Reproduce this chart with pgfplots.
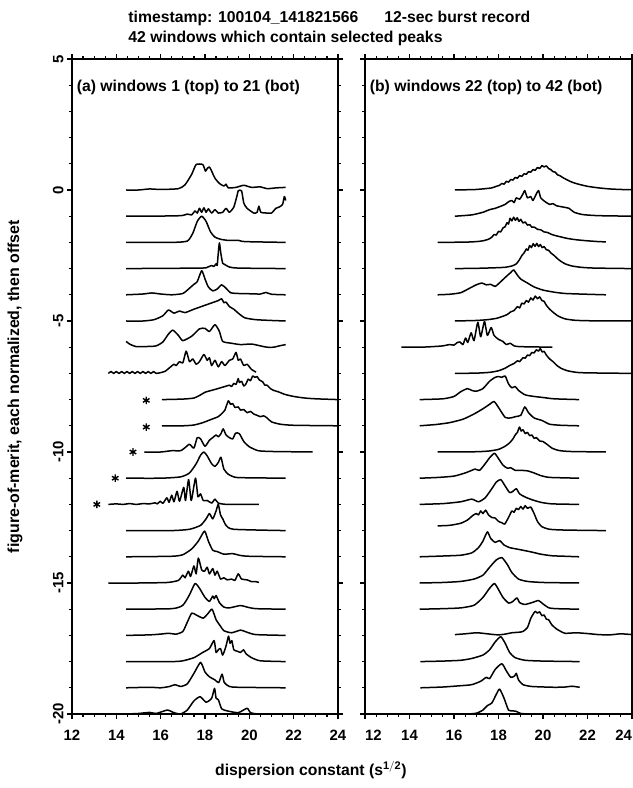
\documentclass[border=0pt]{standalone}
\usepackage{fontspec}
\setmainfont{Liberation Sans}
\usepackage{pgfplots}
\pgfplotsset{compat=1.18}

\pgfplotsset{
  panel/.style={
    scale only axis, height=655bp,
    xmin=12, xmax=24, ymin=-20, ymax=5,
    xtick={12,14,...,24}, minor x tick num=3,
    ytick={-20,-15,-10,-5,0,5}, minor y tick num=4,
    tick align=outside, major tick length=5bp, minor tick length=3bp,
    axis line style={line width=1.5bp},
    every tick/.style={black, line width=1.2bp},
    tick label style={font=\bfseries\fontsize{15}{15}\selectfont},
    xticklabel style={yshift=-8bp},
    /pgf/number format/assume math mode=true,
    clip=true,
  },
  tr/.style={black, line width=1.5bp, no markers, line join=round, smooth, tension=0.35},
}
\newcommand\tr[2]{\addplot[tr, y filter/.expression={y-#1}] coordinates {#2};}

\begin{document}
\begin{tikzpicture}
% ---------- (a) windows 1 to 21 ----------
\begin{axis}[panel, name=L, at={(0,0)}, anchor=south west, width=266bp,
  yticklabels={-20,-15,-10,-5,0,5},
  yticklabel style={rotate=90, anchor=south},
  ylabel={\bfseries figure-of-merit, each normalized, then offset},
  ylabel style={font=\fontsize{16}{16}\selectfont, at={(axis description cs:-0.214,0.5)}, anchor=center, rotate=0},
  xlabel={\bfseries dispersion constant (s$^{\mathbf{1/2}}$)},
  xlabel style={font=\fontsize{15.8}{15.8}\selectfont, at={(axis description cs:0.898,-0.0855)}, anchor=center},
  title={\bfseries timestamp: 100104\_141821566\hspace{26bp}12-sec burst record\\\bfseries 42 windows which contain selected peaks},
  title style={font=\fontsize{15.8}{20}\selectfont, align=left, at={(axis description cs:0.199,1)}, anchor=south west, yshift=4bp},
]
\node[anchor=west, font=\bfseries\fontsize{15.8}{15.8}\selectfont] at (rel axis cs:0.005,0.956) {(a) windows 1 (top) to 21 (bot)};
\tr{0}{(14.44,0)(15.0,0.0)(15.5,0.04)(16.0,0.02)(16.8,0.05)(17.1,0.2)(17.4,0.6)(17.6,0.97)(17.9,0.97)(18.02,0.72)(18.1,0.82)(18.2,0.88)(18.3,0.72)(18.45,0.45)(18.65,0.25)(18.85,0.15)(18.95,0.22)(19.05,0.08)(19.4,0.1)(19.75,0.18)(20.1,0.1)(20.5,0.12)(20.8,0.05)(21.2,0.08)(21.64,0.1)}
\tr{1}{(14.44,0)(15.5,0.0)(16.9,0.02)(17.2,0.08)(17.4,0.05)(17.55,0.2)(17.65,0.12)(17.75,0.3)(17.85,0.15)(17.95,0.32)(18.05,0.15)(18.15,0.28)(18.3,0.12)(18.45,0.25)(18.6,0.12)(18.8,0.15)(18.95,0.3)(19.1,0.15)(19.3,0.35)(19.45,0.8)(19.5,0.97)(19.65,0.97)(19.75,0.5)(19.9,0.3)(20.2,0.12)(20.35,0.15)(20.43,0.38)(20.52,0.15)(20.8,0.12)(21.0,0.12)(21.2,0.3)(21.35,0.35)(21.5,0.45)(21.58,0.75)(21.64,0.6)}
\tr{2}{(14.44,0)(16.5,0.0)(17.2,0.05)(17.45,0.35)(17.65,0.8)(17.85,1.0)(18.05,0.8)(18.25,0.4)(18.45,0.2)(18.7,0.12)(19.0,0.08)(19.5,0.08)(19.8,0.03)(21.64,0)}
\tr{3}{(14.44,0)(17.8,0.02)(18.1,0.05)(18.3,0.12)(18.4,0.08)(18.5,0.18)(18.55,0.12)(18.6,0.6)(18.65,0.98)(18.72,0.55)(18.8,0.2)(18.9,0.15)(19.1,0.06)(19.5,0.02)(21.64,0)}
\tr{4}{(14.44,0)(15.2,0.03)(15.6,0.07)(16.0,0.03)(16.5,0.0)(17.0,0.05)(17.3,0.25)(17.5,0.4)(17.65,0.5)(17.85,0.92)(18.0,0.6)(18.15,0.3)(18.35,0.15)(18.55,0.22)(18.75,0.38)(18.95,0.25)(19.15,0.08)(19.5,0.05)(20.0,0.04)(20.5,0.03)(20.75,0.09)(21.0,0.02)(21.64,0)}
\tr{5}{(14.44,0)(15.2,0.0)(15.7,0.05)(16.1,0.2)(16.35,0.42)(16.6,0.3)(16.85,0.38)(17.1,0.32)(17.5,0.45)(18.0,0.6)(18.4,0.72)(18.6,0.78)(18.75,0.85)(18.85,0.7)(18.95,0.72)(19.1,0.55)(19.3,0.45)(19.5,0.3)(19.8,0.12)(20.3,0.05)(21.0,0.02)(21.64,0)}
\tr{6}{(14.44,0.22)(14.6,0.12)(14.9,0.02)(15.5,0.03)(15.8,0.05)(16.1,0.2)(16.35,0.5)(16.55,0.65)(16.8,0.45)(17.0,0.25)(17.4,0.42)(17.75,0.7)(18.0,0.72)(18.2,0.6)(18.45,0.86)(18.65,0.6)(18.8,0.22)(19.2,0.15)(19.6,0.1)(20.1,0.12)(20.5,0.05)(20.8,0.0)(21.1,0.0)(21.35,0.05)(21.64,0.1)}
\tr{7}{(13.64,0)(13.76,0.07)(13.88,0)(14.0,0.07)(14.12,0)(14.24,0.07)(14.36,0)(14.48,0.07)(14.6,0)(14.72,0.07)(14.84,0)(14.96,0.07)(15.08,0)(15.2,0.07)(15.32,0)(15.44,0.07)(15.56,0)(15.68,0.07)(15.8,0)(16.0,0.03)(16.2,0.08)(16.45,0.25)(16.6,0.35)(16.7,0.3)(16.85,0.45)(17.0,0.4)(17.15,0.85)(17.3,0.45)(17.45,0.55)(17.6,0.35)(17.75,0.45)(17.95,0.72)(18.1,0.5)(18.2,0.6)(18.3,0.3)(18.45,0.5)(18.6,0.25)(18.75,0.45)(18.9,0.3)(19.1,0.5)(19.25,0.55)(19.4,0.8)(19.5,0.5)(19.6,0.55)(19.75,0.3)(19.9,0.35)(20.1,0.15)(20.3,0.05)}
\tr{8}{(16.06,0)(17.0,0.02)(17.5,0.06)(17.8,0.18)(18.0,0.28)(18.2,0.33)(18.5,0.4)(18.7,0.45)(18.9,0.5)(19.1,0.55)(19.2,0.5)(19.3,0.62)(19.4,0.58)(19.5,0.8)(19.55,0.65)(19.65,0.7)(19.75,0.52)(19.85,0.6)(19.95,0.78)(20.05,0.72)(20.15,0.9)(20.25,0.85)(20.35,0.88)(20.45,0.75)(20.6,0.68)(20.7,0.55)(20.8,0.55)(20.95,0.42)(21.1,0.35)(21.3,0.3)(21.6,0.2)(22.0,0.12)(22.5,0.06)(23.0,0.03)(24,0.0)}
\tr{9}{(16.06,0)(17.0,0.0)(17.5,0.03)(17.9,0.12)(18.3,0.25)(18.6,0.35)(18.8,0.5)(18.9,0.6)(19.05,0.95)(19.15,0.82)(19.25,0.85)(19.35,0.7)(19.5,0.72)(19.6,0.6)(19.75,0.62)(19.9,0.5)(20.05,0.55)(20.2,0.45)(20.35,0.4)(20.5,0.35)(20.65,0.38)(20.8,0.3)(21.0,0.15)(21.4,0.06)(22.0,0.02)(24,0)}
\tr{10}{(15.26,0)(16.0,0.0)(16.5,0.05)(16.9,0.05)(17.15,0.2)(17.3,0.3)(17.5,0.15)(17.65,0.55)(17.8,0.5)(18.0,0.22)(18.2,0.45)(18.35,0.55)(18.5,0.65)(18.6,0.58)(18.72,0.7)(18.82,0.88)(18.95,0.65)(19.1,0.55)(19.25,0.5)(19.38,0.72)(19.55,0.7)(19.75,0.4)(20.0,0.2)(20.4,0.05)(21.0,0.02)(22.85,0)}
\tr{11}{(14.44,0)(16.0,0.0)(16.9,0.05)(17.3,0.2)(17.6,0.55)(17.8,0.88)(17.95,1.0)(18.1,0.85)(18.3,0.55)(18.45,0.45)(18.6,0.6)(18.72,0.8)(18.85,0.35)(19.05,0.15)(19.3,0.05)(19.6,0.02)(21.64,0)}
\tr{12}{(13.64,0)(14.0,0.02)(14.3,0)(14.6,0.03)(14.9,0)(15.2,0.03)(15.5,0.02)(15.75,0.06)(15.85,0.02)(15.98,0.12)(16.1,0.04)(16.28,0.25)(16.38,0.08)(16.5,0.35)(16.6,0.1)(16.74,0.5)(16.85,0.12)(17.04,0.65)(17.12,0.15)(17.26,0.95)(17.38,0.15)(17.57,1.0)(17.68,0.3)(17.8,0.4)(17.92,0.15)(18.1,0.15)(18.3,0.05)(18.45,0.2)(18.6,0.05)(19.0,0.0)(20.43,0)}
\tr{13}{(14.44,0)(16.5,0.0)(17.3,0.05)(17.8,0.2)(18.05,0.45)(18.2,0.65)(18.35,0.45)(18.5,0.75)(18.6,1.0)(18.7,0.6)(18.8,0.45)(18.95,0.2)(19.3,0.05)(21.64,0)}
\tr{14}{(14.44,0)(16.5,0.02)(17.0,0.08)(17.4,0.3)(17.7,0.6)(17.98,0.98)(18.15,0.6)(18.35,0.25)(18.55,0.2)(18.85,0.1)(19.25,0.12)(19.6,0.05)(20.0,0.02)(21.64,0)}
\tr{15}{(13.64,0)(15.0,0.0)(16.3,0.02)(16.8,0.1)(17.0,0.3)(17.1,0.2)(17.25,0.45)(17.35,0.25)(17.5,0.65)(17.6,0.35)(17.7,0.95)(17.85,0.5)(17.98,0.45)(18.1,0.6)(18.2,0.35)(18.35,0.55)(18.45,0.3)(18.55,0.45)(18.7,0.15)(18.85,0.2)(19.0,0.12)(19.2,0.15)(19.35,0.1)(19.5,0.35)(19.65,0.15)(19.9,0.12)(20.1,0.05)(20.3,0.05)(20.43,0.02)}
\tr{16}{(14.44,0)(16.5,0.02)(17.0,0.15)(17.3,0.55)(17.55,0.98)(17.75,0.8)(18.0,0.45)(18.2,0.3)(18.35,0.5)(18.42,0.4)(18.5,0.52)(18.65,0.25)(18.85,0.08)(19.1,0.05)(19.6,0.14)(19.9,0.08)(20.3,0.02)(21.64,0)}
\tr{17}{(14.44,0)(15.5,0.02)(16.0,0.05)(16.35,0.08)(16.7,0.05)(17.0,0.15)(17.2,0.5)(17.4,0.85)(17.6,0.78)(17.92,0.66)(18.15,0.85)(18.32,1.0)(18.5,0.6)(18.7,0.35)(18.85,0.18)(19.2,0.1)(19.6,0.2)(19.9,0.12)(20.3,0.03)(21.64,0)}
\tr{18}{(14.44,0)(16.5,0.0)(17.0,0.03)(17.5,0.15)(17.9,0.35)(18.2,0.5)(18.41,0.8)(18.5,0.35)(18.6,0.45)(18.7,0.5)(18.8,0.25)(18.95,0.6)(19.06,0.97)(19.13,0.7)(19.21,0.8)(19.3,0.45)(19.45,0.4)(19.6,0.35)(19.74,0.45)(19.85,0.3)(20.1,0.15)(20.5,0.03)(21.64,0)}
\tr{19}{(14.44,0)(15.5,0.02)(16.0,0.0)(16.4,0.05)(16.65,0.12)(16.9,0.05)(17.2,0.15)(17.5,0.55)(17.8,0.97)(18.0,0.6)(18.2,0.42)(18.45,0.3)(18.62,0.2)(18.77,0.52)(18.87,0.2)(19.1,0.05)(19.5,0.02)(21.64,0)}
\tr{20}{(14.44,0)(15.0,0.02)(15.5,0.06)(15.8,0.02)(16.3,0.15)(16.6,0.05)(16.9,0.0)(17.2,0.15)(17.5,0.5)(17.78,0.66)(18.05,0.45)(18.3,0.6)(18.43,0.98)(18.5,0.6)(18.6,0.55)(18.75,0.2)(19.0,0.12)(19.5,0.05)(19.9,0.22)(20.05,0.05)(20.4,0.0)(21.0,0)}
\addplot[only marks, mark=asterisk, mark size=3.8bp, mark options={line width=1.4bp}] coordinates {(15.35,-8.03)(15.35,-9.05)(14.75,-10.0)(13.95,-11.0)(13.12,-12.0)};
\end{axis}

% ---------- (b) windows 22 to 42 ----------
\begin{axis}[panel, name=R, at={(293bp,0)}, anchor=south west, width=267bp,
  yticklabels={},
  xticklabels={\makebox[0pt][l]{12},14,16,18,20,22,\makebox[0pt][r]{24}},
]
\node[anchor=west, font=\bfseries\fontsize{15.8}{15.8}\selectfont] at (rel axis cs:0.005,0.956) {(b) windows 22 (top) to 42 (bot)};
\tr{0}{(16.04,0)(16.6,0.01)(17.0,0.02)(17.4,0.05)(17.7,0.08)(17.9,0.14)(18.05,0.18)(18.15,0.25)(18.25,0.22)(18.35,0.33)(18.45,0.3)(18.55,0.4)(18.65,0.38)(18.75,0.48)(18.85,0.45)(18.95,0.55)(19.05,0.52)(19.15,0.62)(19.25,0.6)(19.35,0.7)(19.45,0.68)(19.55,0.78)(19.65,0.75)(19.75,0.86)(19.85,0.82)(19.95,0.93)(20.05,0.88)(20.15,0.92)(20.25,0.82)(20.35,0.78)(20.45,0.7)(20.55,0.68)(20.65,0.58)(20.75,0.55)(20.9,0.47)(21.05,0.4)(21.3,0.3)(21.6,0.22)(22.0,0.14)(22.5,0.08)(23.0,0.04)(23.5,0.02)(24,0.01)}
\tr{1}{(16.04,0)(16.8,0.05)(17.3,0.15)(17.6,0.25)(17.85,0.3)(18.1,0.38)(18.3,0.45)(18.45,0.55)(18.6,0.6)(18.7,0.52)(18.8,0.7)(18.95,0.65)(19.1,0.85)(19.18,0.98)(19.3,0.7)(19.45,0.75)(19.55,0.6)(19.7,0.85)(19.8,0.98)(19.9,0.7)(20.1,0.55)(20.3,0.45)(20.45,0.48)(20.6,0.4)(20.9,0.35)(21.17,0.3)(21.4,0.15)(21.8,0.06)(22.5,0.02)(24,0)}
\tr{2}{(15.26,0)(16.5,0.01)(17.0,0.03)(17.3,0.06)(17.55,0.12)(17.7,0.2)(17.8,0.3)(17.9,0.28)(18.0,0.42)(18.1,0.4)(18.2,0.55)(18.3,0.6)(18.38,0.75)(18.45,0.7)(18.52,0.92)(18.6,0.82)(18.68,0.96)(18.76,0.84)(18.84,0.94)(18.92,0.8)(19.0,0.88)(19.1,0.74)(19.2,0.78)(19.3,0.66)(19.4,0.68)(19.5,0.58)(19.62,0.58)(19.75,0.5)(19.9,0.48)(20.05,0.4)(20.2,0.38)(20.4,0.3)(20.6,0.25)(20.85,0.2)(21.1,0.15)(21.5,0.1)(22.0,0.06)(22.5,0.03)(22.83,0.02)}
\tr{3}{(16.04,0)(17.0,0.01)(17.8,0.03)(18.3,0.05)(18.6,0.1)(18.8,0.18)(18.95,0.35)(19.05,0.5)(19.15,0.6)(19.25,0.75)(19.32,0.7)(19.4,0.88)(19.48,0.8)(19.56,0.95)(19.64,0.85)(19.72,0.96)(19.8,0.84)(19.88,0.92)(19.96,0.8)(20.05,0.84)(20.15,0.72)(20.25,0.7)(20.35,0.6)(20.5,0.5)(20.65,0.38)(20.8,0.28)(21.0,0.18)(21.3,0.1)(21.7,0.05)(22.3,0.02)(24,0)}
\tr{4}{(15.26,0)(15.8,0.02)(16.3,0.08)(16.7,0.25)(17.0,0.38)(17.25,0.45)(17.45,0.38)(17.65,0.4)(17.85,0.32)(18.1,0.5)(18.35,0.7)(18.55,0.85)(18.68,0.95)(18.85,0.75)(19.0,0.6)(19.3,0.45)(19.6,0.3)(20.0,0.18)(20.5,0.1)(21.0,0.05)(22.0,0.02)(22.83,0)}
\tr{5}{(16.04,0)(17.0,0.02)(17.5,0.05)(17.9,0.1)(18.2,0.18)(18.4,0.25)(18.55,0.35)(18.7,0.4)(18.85,0.55)(18.95,0.5)(19.05,0.68)(19.15,0.65)(19.25,0.78)(19.35,0.72)(19.45,0.88)(19.55,0.8)(19.65,0.95)(19.75,0.85)(19.85,0.92)(19.95,0.78)(20.05,0.75)(20.15,0.6)(20.3,0.45)(20.5,0.3)(20.7,0.18)(21.0,0.08)(21.4,0.03)(22,0.01)(24,0)}
\tr{6}{(13.63,0)(14.5,0.0)(15.0,0.02)(15.5,0.05)(15.8,0.1)(16.0,0.08)(16.15,0.18)(16.27,0.2)(16.4,0.1)(16.52,0.35)(16.62,0.18)(16.77,0.55)(16.9,0.25)(17.07,0.95)(17.2,0.4)(17.37,0.98)(17.5,0.45)(17.67,0.75)(17.8,0.45)(18.0,0.3)(18.2,0.22)(18.35,0.1)(18.53,0.15)(18.7,0.05)(19.0,0.02)(20.42,0)}
\tr{7}{(16.04,0)(17.0,0.01)(17.6,0.04)(18.0,0.1)(18.3,0.2)(18.5,0.3)(18.7,0.38)(18.85,0.48)(18.95,0.45)(19.1,0.6)(19.2,0.58)(19.3,0.7)(19.4,0.68)(19.5,0.8)(19.6,0.78)(19.7,0.9)(19.8,0.85)(19.88,0.95)(19.96,0.82)(20.05,0.84)(20.15,0.7)(20.3,0.55)(20.45,0.45)(20.6,0.32)(20.8,0.2)(21.1,0.1)(21.5,0.04)(22,0.02)(24,0)}
\tr{8}{(14.46,0)(15.5,0.03)(16.0,0.12)(16.3,0.3)(16.6,0.42)(16.8,0.35)(17.0,0.32)(17.3,0.42)(17.6,0.7)(17.85,0.85)(18.0,0.88)(18.15,0.85)(18.3,0.9)(18.45,0.6)(18.6,0.45)(18.75,0.5)(18.9,0.35)(19.2,0.18)(19.6,0.12)(20.0,0.08)(20.5,0.03)(21.62,0)}
\tr{9}{(14.46,0)(15.2,0.05)(15.8,0.12)(16.4,0.25)(16.9,0.45)(17.3,0.65)(17.6,0.82)(17.8,0.93)(18.0,0.7)(18.3,0.32)(18.55,0.3)(18.76,0.35)(19.0,0.4)(19.18,0.72)(19.35,0.5)(19.6,0.3)(19.96,0.2)(20.3,0.06)(20.8,0.02)(21.62,0)}
\tr{10}{(15.26,0)(17.0,0.01)(17.6,0.04)(18.0,0.1)(18.3,0.22)(18.5,0.35)(18.65,0.5)(18.75,0.65)(18.85,0.75)(18.94,0.95)(19.02,0.8)(19.1,0.85)(19.2,0.7)(19.3,0.75)(19.4,0.62)(19.5,0.65)(19.6,0.52)(19.7,0.55)(19.85,0.42)(20.0,0.4)(20.2,0.28)(20.4,0.15)(20.7,0.06)(21.2,0.02)(22.83,0)}
\tr{11}{(14.46,0)(15.3,0.03)(16.0,0.08)(16.5,0.2)(16.8,0.3)(16.95,0.35)(17.15,0.3)(17.4,0.55)(17.6,0.78)(17.82,0.95)(18.0,0.75)(18.2,0.5)(18.4,0.38)(18.55,0.4)(18.75,0.3)(19.0,0.3)(19.3,0.28)(19.6,0.2)(19.9,0.1)(20.3,0.03)(21.62,0)}
\tr{12}{(14.46,0)(15.5,0.03)(16.3,0.1)(16.8,0.2)(17.1,0.1)(17.4,0.25)(17.7,0.6)(17.9,0.85)(18.1,0.95)(18.3,0.7)(18.5,0.45)(18.65,0.5)(18.8,0.6)(18.95,0.4)(19.2,0.28)(19.5,0.18)(19.9,0.08)(20.4,0.02)(21.62,0)}
\tr{13}{(15.26,0.18)(15.8,0.2)(16.3,0.28)(16.6,0.4)(16.85,0.58)(17.0,0.65)(17.1,0.6)(17.2,0.75)(17.3,0.65)(17.42,0.78)(17.55,0.6)(17.7,0.5)(17.85,0.48)(18.0,0.35)(18.15,0.3)(18.28,0.25)(18.45,0.5)(18.6,0.75)(18.7,0.7)(18.8,0.85)(18.9,0.8)(19.0,0.92)(19.1,0.82)(19.2,0.95)(19.3,0.85)(19.45,0.9)(19.6,0.65)(19.75,0.35)(19.95,0.15)(20.3,0.05)(21.0,0.02)(22.83,0)}
\tr{14}{(14.46,0)(15.5,0.03)(16.3,0.06)(16.8,0.15)(17.1,0.35)(17.3,0.6)(17.5,0.95)(17.65,0.7)(17.85,0.55)(18.05,0.62)(18.25,0.45)(18.5,0.35)(18.8,0.3)(19.1,0.25)(19.5,0.18)(19.9,0.1)(20.4,0.04)(21.0,0.02)(21.62,0)}
\tr{15}{(14.46,0)(15.5,0.02)(16.3,0.06)(16.9,0.15)(17.3,0.3)(17.6,0.6)(17.9,0.88)(18.15,0.97)(18.4,0.7)(18.6,0.4)(18.9,0.15)(19.3,0.06)(20.0,0.02)(21.62,0)}
\tr{16}{(14.46,0)(15.5,0.02)(16.3,0.05)(16.9,0.15)(17.3,0.45)(17.6,0.8)(17.82,0.98)(18.0,0.75)(18.2,0.45)(18.46,0.23)(18.65,0.3)(18.83,0.43)(18.95,0.25)(19.18,0.18)(19.5,0.25)(19.8,0.33)(20.0,0.2)(20.27,0.05)(20.6,0.02)(21.62,0)}
\tr{17}{(16.04,0.03)(16.5,0.06)(17.0,0.1)(17.3,0.08)(17.6,0.05)(18.0,0.02)(18.3,0.05)(18.6,0.1)(18.9,0.12)(19.1,0.15)(19.3,0.3)(19.45,0.65)(19.55,0.8)(19.65,0.92)(19.75,0.85)(19.85,0.9)(19.95,0.75)(20.05,0.78)(20.15,0.62)(20.25,0.6)(20.4,0.4)(20.6,0.25)(20.8,0.15)(21.0,0.08)(21.5,0.1)(22.0,0.07)(22.5,0.03)(23.0,0.02)(23.5,0.06)(24,0.03)}
\tr{18}{(14.49,0)(15.5,0.02)(16.3,0.05)(16.8,0.12)(17.3,0.25)(17.6,0.45)(17.85,0.75)(18.1,0.95)(18.3,0.7)(18.5,0.35)(18.75,0.15)(19.2,0.05)(20.0,0.02)(21.65,0)}
\tr{19}{(14.49,0)(15.5,0.03)(16.3,0.08)(16.8,0.12)(17.2,0.25)(17.45,0.4)(17.6,0.35)(17.85,0.7)(18.15,0.92)(18.35,0.65)(18.55,0.4)(18.72,0.45)(18.8,0.55)(18.9,0.3)(19.1,0.12)(19.5,0.05)(20.5,0.02)(21.0,0.03)(21.3,0.06)(21.65,0.02)}
\tr{20}{(14.49,0)(16.5,0.0)(17.0,0.03)(17.3,0.15)(17.5,0.32)(17.7,0.42)(17.9,0.75)(18.05,0.95)(18.25,0.6)(18.45,0.15)(18.65,0.12)(18.8,0.1)(19.0,0.02)(19.5,0)(21.65,0)}
\end{axis}
\pgfresetboundingbox
\path[use as bounding box] (L.south west) ++(-72bp,-74bp) rectangle ++(633bp,788bp);
\end{tikzpicture}
\end{document}
